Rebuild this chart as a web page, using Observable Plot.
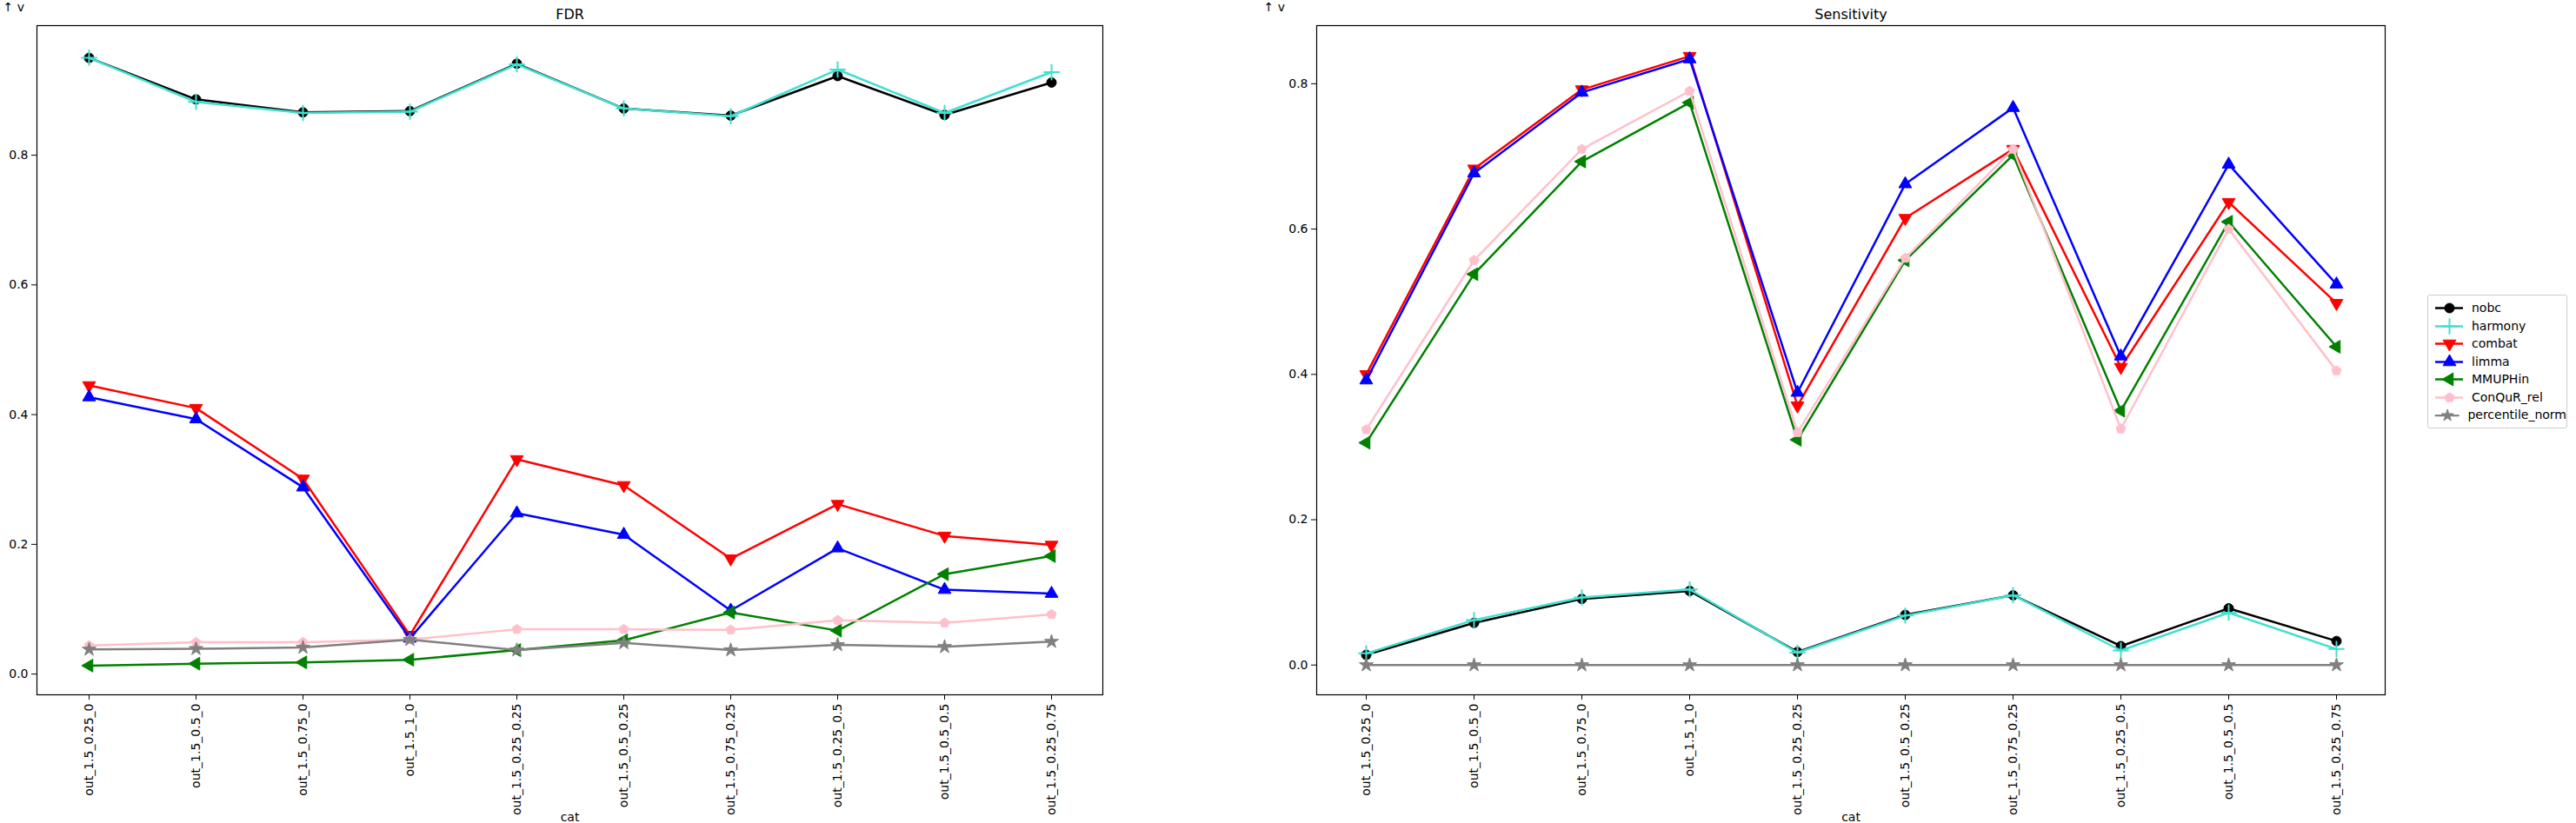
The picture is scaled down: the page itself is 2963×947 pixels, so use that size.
<!DOCTYPE html>
<html><head><meta charset="utf-8">
<script src="https://cdn.jsdelivr.net/npm/d3@7"></script>
<script src="https://cdn.jsdelivr.net/npm/@observablehq/plot@0.6"></script>
<style>
body{margin:0;background:#fff;font-family:"DejaVu Sans",sans-serif;}
#wrap{position:relative;width:2963px;height:947px;}
.panel{position:absolute;top:0;}
#legend{position:absolute;left:2792px;top:339px;width:159px;border:1px solid #ccc;border-radius:3px;background:#fff;padding:4px 0;font-size:14px;}
.item{display:flex;align-items:center;height:20.5px;padding-left:6px;}
.item svg{margin-right:8px;}
</style></head><body>
<div id="wrap"><div id="legend"></div></div>
<script>
const categories = ["out_1.5_0.25_0","out_1.5_0.5_0","out_1.5_0.75_0","out_1.5_1_0","out_1.5_0.25_0.25","out_1.5_0.5_0.25","out_1.5_0.75_0.25","out_1.5_0.25_0.5","out_1.5_0.5_0.5","out_1.5_0.25_0.75"];
const methods = ["nobc","harmony","combat","limma","MMUPHin","ConQuR_rel","percentile_norm"];
const colors = ["#000000","#40E0D0","#FF0000","#0000FF","#008000","#FFC0CB","#808080"];

const fdr_nobc = [0.950,0.886,0.866,0.868,0.941,0.872,0.861,0.922,0.862,0.912];
const fdr_harmony = [0.950,0.882,0.865,0.867,0.940,0.872,0.860,0.932,0.865,0.928];
const fdr_combat = [0.445,0.410,0.301,0.060,0.331,0.291,0.178,0.262,0.213,0.199];
const fdr_limma = [0.427,0.393,0.288,0.055,0.248,0.215,0.098,0.194,0.130,0.124];
const fdr_mmuphin = [0.013,0.016,0.018,0.022,0.037,0.052,0.095,0.067,0.154,0.182];
const fdr_conqur = [0.044,0.049,0.049,0.053,0.069,0.069,0.068,0.083,0.079,0.092];
const fdr_percentile = [0.038,0.039,0.041,0.053,0.037,0.048,0.037,0.045,0.042,0.050];

const sens_nobc = [0.014,0.058,0.091,0.102,0.018,0.069,0.096,0.026,0.078,0.033];
const sens_harmony = [0.016,0.062,0.093,0.104,0.017,0.068,0.096,0.020,0.072,0.022];
const sens_combat = [0.400,0.683,0.792,0.838,0.357,0.615,0.710,0.410,0.637,0.498];
const sens_limma = [0.392,0.677,0.788,0.834,0.375,0.662,0.767,0.425,0.689,0.524];
const sens_mmuphin = [0.306,0.538,0.693,0.774,0.310,0.557,0.702,0.350,0.610,0.438];
const sens_conqur = [0.324,0.557,0.710,0.790,0.320,0.560,0.710,0.325,0.600,0.405];
const sens_percentile = [0,0,0,0,0,0,0,0,0,0];

const fdrSeries = [fdr_nobc,fdr_harmony,fdr_combat,fdr_limma,fdr_mmuphin,fdr_conqur,fdr_percentile];
const sensSeries = [sens_nobc,sens_harmony,sens_combat,sens_limma,sens_mmuphin,sens_conqur,sens_percentile];

const pentagon = {draw(ctx,size){const r=Math.sqrt(size/2.38);for(let i=0;i<5;i++){const a=-Math.PI/2+i*2*Math.PI/5;const x=r*Math.cos(a),y=r*Math.sin(a);i?ctx.lineTo(x,y):ctx.moveTo(x,y);}ctx.closePath();}};
const markers = [
  {symbol:"circle",rotate:0,r:5.5},
  {symbol:"plus",rotate:0,r:6},
  {symbol:"triangle",rotate:180,r:5.5},
  {symbol:"triangle",rotate:0,r:5.5},
  {symbol:"triangle",rotate:-90,r:5.5},
  {symbol:pentagon,rotate:0,r:5},
  {symbol:"star",rotate:0,r:5}
];

function tidy(series){
  const out=[];
  series.forEach((vals,m)=>vals.forEach((v,i)=>out.push({cat:categories[i],v,m:methods[m],mi:m})));
  return out;
}

function panel(title, series, left, width, mLeft, yDomain, yTicks){
  const data = tidy(series);
  const marks = [Plot.frame({stroke:"#000",strokeWidth:1.2})];
  methods.forEach((m,mi)=>{
    const d = data.filter(x=>x.mi===mi);
    marks.push(Plot.line(d,{x:"cat",y:"v",stroke:colors[mi],strokeWidth:2.5}));
    const mk=markers[mi];
    marks.push(Plot.dot(d,{x:"cat",y:"v",symbol:()=>mk.symbol,r:mk.r,rotate:mk.rotate,fill:mi===1?"none":colors[mi],stroke:colors[mi],strokeWidth:mi===1?2:1}));
  });
  marks.push(Plot.axisX({domain:categories,tickRotate:-90,tickSize:6,tickPadding:4,fontSize:14,textAnchor:"end"}));
  marks.push(Plot.axisY({ticks:yTicks,tickFormat:d3.format(".1f"),tickSize:6,tickPadding:4,fontSize:14,fill:"#000"}));
  marks.push(Plot.text([title],{frameAnchor:"top",dy:-19,fontSize:16,text:d=>d,fill:"#000"}));
  const svg = Plot.plot({
    width, height:947, marginLeft:mLeft, marginRight:width-mLeft-(series===fdrSeries?1226:1229), marginTop:29, marginBottom:148,
    style:{fontFamily:"DejaVu Sans",fontSize:"14px",color:"#000",background:"transparent",overflow:"visible"},
    x:{type:"point",domain:categories,padding:0.45,axis:null},
    y:{domain:yDomain,axis:null},
    marks
  });
  const div=document.createElement("div");div.className="panel";div.style.left=left+"px";div.appendChild(svg);
  document.getElementById("wrap").appendChild(div);
}

panel("FDR", fdrSeries, 0, 1290, 42, [-0.032,0.9997], [0,0.2,0.4,0.6,0.8]);
panel("Sensitivity", sensSeries, 1450, 1310, 64, [-0.041,0.880], [0,0.2,0.4,0.6,0.8]);

const lg=document.getElementById("legend");
methods.forEach((m,mi)=>{
  const it=document.createElement("div");it.className="item";
  const mk=markers[mi];
  const s=Plot.plot({width:36,height:20,margin:0,x:{domain:[0,36],axis:null},y:{domain:[0,20],axis:null},style:{background:"transparent"},
    marks:[Plot.ruleY([10],{x1:2,x2:34,stroke:colors[mi],strokeWidth:2.5}),
      Plot.dot([[18,10]],{symbol:()=>mk.symbol,r:mk.r,rotate:mk.rotate,fill:mi===1?"none":colors[mi],stroke:colors[mi],strokeWidth:mi===1?2:1})]});
  it.appendChild(s);
  const t=document.createElement("span");t.textContent=m;it.appendChild(t);
  lg.appendChild(it);
});
</script></body></html>
